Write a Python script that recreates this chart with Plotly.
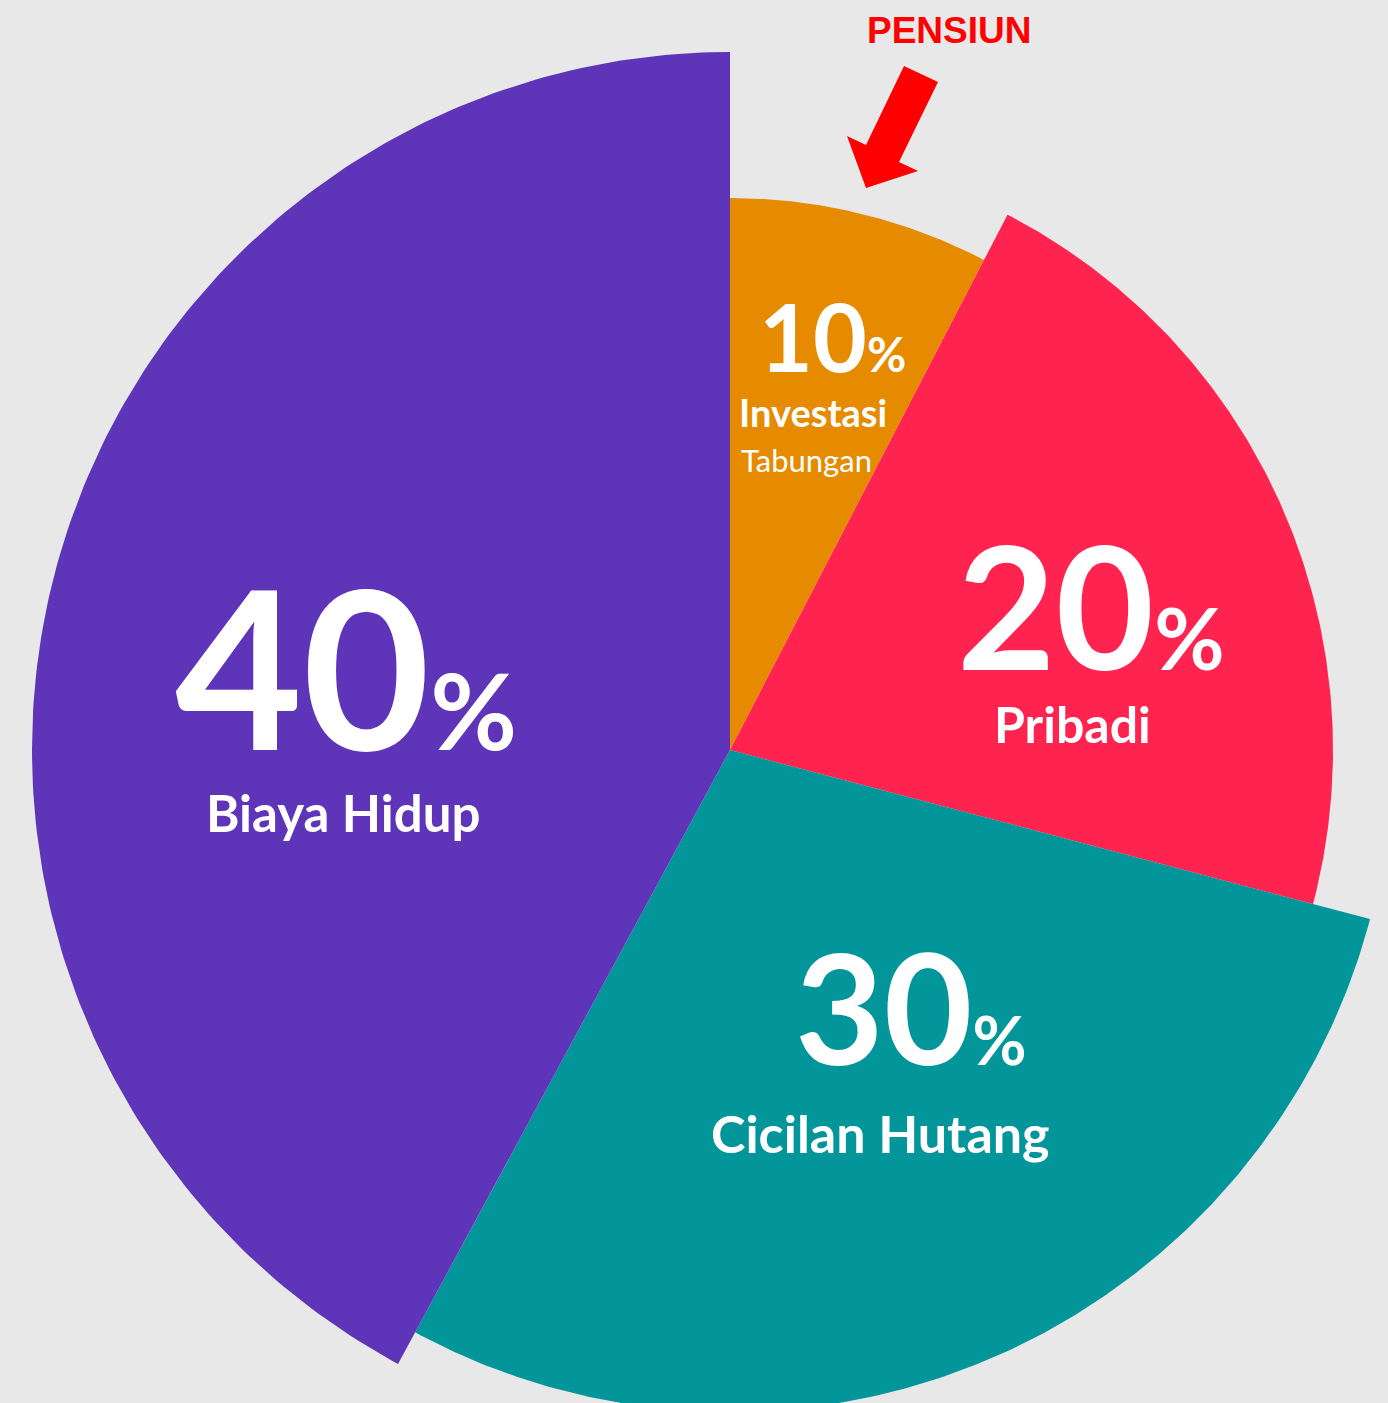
import numpy as np
import plotly.graph_objects as go

W, H = 1388, 1403
CX, CY = 730, 750          # pie centre in pixels (from top-left)
BG = "#E8E8E8"

# ---- data ----
categories = ["Investasi", "Pribadi", "Cicilan Hutang", "Biaya Hidup"]
sublabels = ["Tabungan", "", "", ""]
percents = [10, 20, 30, 40]
angle_shares = [27.4, 77.4, 103.6, 151.6]   # angular width of each slice as drawn (degrees)
radii = [552, 603, 662, 698]                 # outer radius of each slice as drawn
colors = ["#E68B00", "#FF234F", "#02959A", "#5E35B8"]

ends = np.cumsum(angle_shares)
starts = ends - np.array(angle_shares)

fig = go.Figure()
for name, a0, a1, r, col in zip(categories, starts, ends, radii, colors):
    t = np.radians(np.linspace(a0, a1, 200))   # clockwise from 12 o'clock
    xs = np.concatenate([[0], r * np.sin(t), [0]])
    ys = np.concatenate([[0], r * np.cos(t), [0]])
    fig.add_trace(go.Scatter(
        x=xs, y=ys, mode="lines", fill="toself", fillcolor=col,
        line=dict(width=0, color=col), name=name,
        hoverinfo="skip", showlegend=False,
    ))


def px(x, y):
    return x / W, 1 - y / H


annotations = []


def ann(text, x, y, size, color="white", family="Lato", weight="bold"):
    ax, ay = px(x, y)
    annotations.append(dict(
        text=text, x=ax, y=ay, xref="paper", yref="paper",
        xanchor="center", yanchor="middle", showarrow=False,
        font=dict(family=family, size=size, color=color, weight=weight),
    ))


# percentage numbers
pct_style = [  # (center x, center y, number size, percent size)
    (832, 336, 93, 48),
    (1091, 604, 170, 86),
    (911, 1006, 153, 66),
    (346, 665, 220, 106),
]
for p, (cx, cy, s1, s2) in zip(percents, pct_style):
    ann(f"{p}<span style='font-size:{s2}px'>%</span>", cx, cy, s1)

label_style = [(813, 412, 38), (1072, 724, 50), (880, 1133, 52), (343, 812, 51)]
for c, (cx, cy, s) in zip(categories, label_style):
    ann(c, cx, cy, s)

ann(sublabels[0], 806, 460, 31, weight="normal")

ann("PENSIUN", 949, 31, 37, color="#FF0000", family="Liberation Sans")

# arrow
pts = [(904, 66), (938, 82), (899, 162), (918, 171), (866, 188),
       (847, 136), (866, 145)]
path = "M " + " L ".join(f"{px(x, y)[0]:.5f},{px(x, y)[1]:.5f}" for x, y in pts) + " Z"

fig.update_layout(
    width=W, height=H,
    margin=dict(l=0, r=0, t=0, b=0),
    paper_bgcolor=BG, plot_bgcolor=BG,
    xaxis=dict(range=[-CX, W - CX], visible=False, fixedrange=True),
    yaxis=dict(range=[CY - H, CY], visible=False, fixedrange=True),
    annotations=annotations,
    shapes=[dict(type="path", path=path, xref="paper", yref="paper",
                 fillcolor="#FF0000", line=dict(width=0))],
)

fig.write_html(
    "out.html",
    config={"displayModeBar": False},
    post_script="document.body.style.margin='0';document.body.style.overflow='hidden';",
)
